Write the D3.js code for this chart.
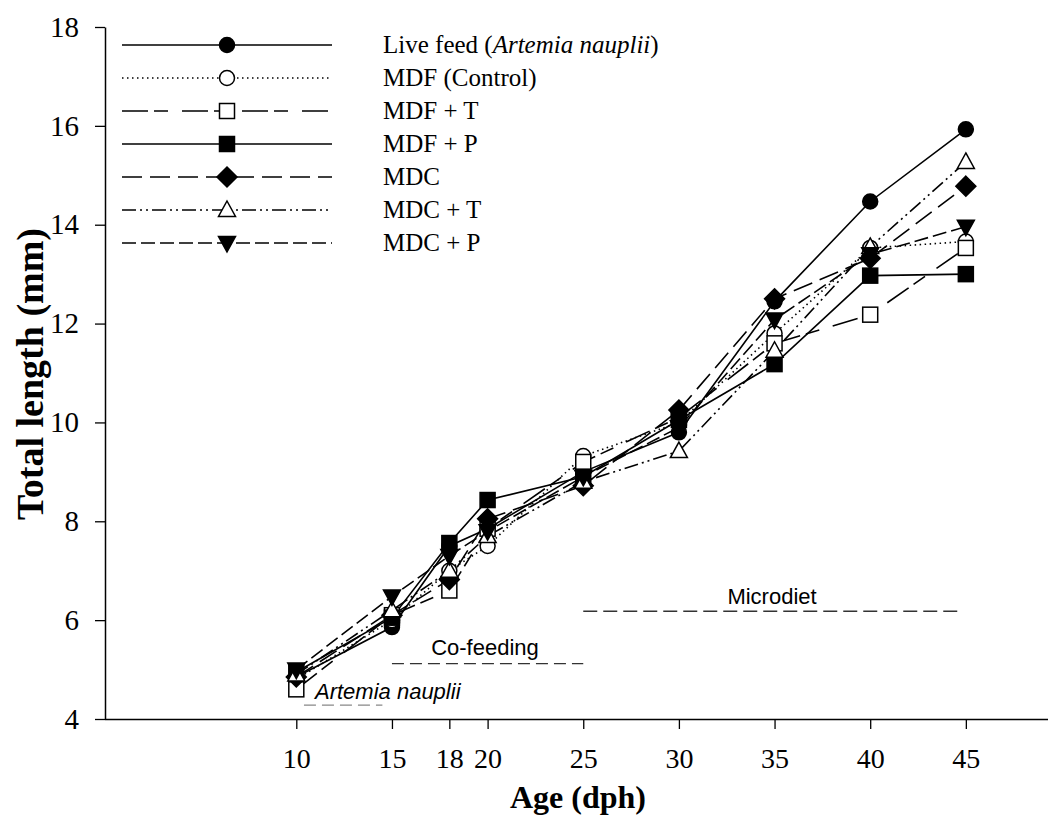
<!DOCTYPE html>
<html><head><meta charset="utf-8">
<script src="https://cdn.jsdelivr.net/npm/d3@7/dist/d3.min.js"></script>
<style>body{margin:0;background:#fff}svg{display:block}</style>
</head><body>
<svg id="c" width="1048" height="819"></svg>
<script>
const ages = [10, 15, 18, 20, 25, 30, 35, 40, 45];
const xTicks = [10, 15, 18, 20, 25, 30, 35, 40, 45];
const yTicks = [4, 6, 8, 10, 12, 14, 16, 18];
const seriesNames = ["Live feed", "MDF (Control)", "MDF + T", "MDF + P", "MDC", "MDC + T", "MDC + P"];
const liveFeed = [4.85, 5.86, 7.5, 7.85, 9.0, 9.8, 12.45, 14.47, 15.93];
const mdfControl = [4.8, 6.0, 7.0, 7.5, 9.32, 10.0, 11.8, 13.53, 13.66];
const mdfT = [4.6, 6.1, 6.6, 7.85, 9.2, 10.1, 11.6, 12.18, 13.53];
const mdfP = [4.95, 6.05, 7.56, 8.43, 8.9, 10.05, 11.18, 12.97, 13.0];
const mdc = [4.85, 6.1, 6.82, 8.05, 8.72, 10.25, 12.5, 13.32, 14.78];
const mdcT = [4.9, 6.2, 7.0, 7.7, 8.8, 9.42, 11.45, 13.55, 15.27];
const mdcP = [5.0, 6.48, 7.3, 7.8, 8.9, 9.9, 12.08, 13.4, 13.96];
const phases = [
  {label: "Artemia nauplii", from: 10.4, to: 14.5},
  {label: "Co-feeding", from: 15, to: 25},
  {label: "Microdiet", from: 25, to: 44.6}
];

const svg = d3.select("#c");
const x = d3.scaleLinear().domain([0, 50]).range([105, 1061.5]);
const y = d3.scaleLinear().domain([4, 18]).range([719, 27]);
const serif = "'Liberation Serif','Times New Roman',serif";
const sans = "'Liberation Sans',Arial,sans-serif";

const styles = [
  {dash: null, marker: "circle", fill: "#000"},
  {dash: "1.5,3.5", marker: "circle", fill: "#fff"},
  {dash: "26,6,14,14", marker: "square", fill: "#fff"},
  {dash: null, marker: "square", fill: "#000"},
  {dash: "20,8", marker: "diamond", fill: "#000"},
  {dash: "14,4,2,4,2,4", marker: "triangle", fill: "#fff"},
  {dash: "14,5", marker: "triangleDown", fill: "#000"}
];
const data = [liveFeed, mdfControl, mdfT, mdfP, mdc, mdcT, mdcP];

// axes
const xAxis = svg.append("g").attr("transform", "translate(0,719)")
  .call(d3.axisBottom(x).tickValues(xTicks).tickSize(10).tickPadding(19).tickSizeOuter(0));
xAxis.select(".domain").attr("stroke-width", 1.5).attr("d", "M105,0.5H1048");
xAxis.selectAll(".tick line").attr("stroke-width", 1.3);
xAxis.selectAll("text").attr("font-family", serif).attr("font-size", 28).attr("fill", "#000");

const yAxis = svg.append("g").attr("transform", "translate(105,0)")
  .call(d3.axisLeft(y).tickValues(yTicks).tickSize(10).tickPadding(16).tickSizeOuter(0));
yAxis.select(".domain").attr("stroke-width", 1.5);
yAxis.selectAll(".tick line").attr("stroke-width", 1.3);
yAxis.selectAll("text").attr("font-family", serif).attr("font-size", 29).attr("fill", "#000");

svg.append("text").attr("x", 578).attr("y", 808).attr("text-anchor", "middle")
  .attr("font-family", serif).attr("font-weight", "bold").attr("font-size", 32).text("Age (dph)");
svg.append("text").attr("transform", "translate(43,374) rotate(-90)").attr("text-anchor", "middle")
  .attr("font-family", serif).attr("font-weight", "bold").attr("font-size", 38).text("Total length (mm)");

// phase annotations
const phaseDash = ["12,6", "12,6", "14,6"];
const phaseY = [4.28, 5.12, 6.18];
const phaseColor = ["#888", "#333", "#333"];
phases.forEach((p, i) => {
  svg.append("line").attr("x1", x(p.from)).attr("x2", x(p.to))
    .attr("y1", y(phaseY[i])).attr("y2", y(phaseY[i]))
    .attr("stroke", phaseColor[i]).attr("stroke-width", 1.3).attr("stroke-dasharray", phaseDash[i]);
});
svg.append("text").attr("x", 315).attr("y", 699).attr("font-family", sans).attr("font-style", "italic")
  .attr("font-size", 22).text(phases[0].label);
svg.append("text").attr("x", 485).attr("y", 655).attr("text-anchor", "middle").attr("font-family", sans)
  .attr("font-size", 22).text(phases[1].label);
svg.append("text").attr("x", 772).attr("y", 604).attr("text-anchor", "middle").attr("font-family", sans)
  .attr("font-size", 22).text(phases[2].label);

function marker(g, type, fill, cx, cy) {
  const sw = 1.5;
  if (type === "circle") g.append("circle").attr("cx", cx).attr("cy", cy).attr("r", 7.5);
  else if (type === "square") g.append("rect").attr("x", cx - 7.5).attr("y", cy - 7.5).attr("width", 15).attr("height", 15);
  else if (type === "diamond") g.append("path").attr("d", `M${cx},${cy-10}L${cx+10},${cy}L${cx},${cy+10}L${cx-10},${cy}Z`);
  else if (type === "triangle") g.append("path").attr("d", `M${cx},${cy-9}L${cx+8.5},${cy+6.5}L${cx-8.5},${cy+6.5}Z`);
  else if (type === "triangleDown") g.append("path").attr("d", `M${cx},${cy+9}L${cx+8.5},${cy-6.5}L${cx-8.5},${cy-6.5}Z`);
  g.selectAll(":last-child").attr("fill", fill).attr("stroke", "#000").attr("stroke-width", sw);
}

const line = d3.line().x((d, i) => x(ages[i])).y(d => y(d));
data.forEach((vals, s) => {
  svg.append("path").attr("d", line(vals)).attr("fill", "none").attr("stroke", "#000")
    .attr("stroke-width", 1.6).attr("stroke-dasharray", styles[s].dash);
});
data.forEach((vals, s) => {
  const g = svg.append("g");
  vals.forEach((v, i) => marker(g, styles[s].marker, styles[s].fill, x(ages[i]), y(v)));
});

// legend
seriesNames.forEach((name, i) => {
  const ly = 45 + i * 33;
  svg.append("line").attr("x1", 122).attr("x2", 332).attr("y1", ly).attr("y2", ly)
    .attr("stroke", "#000").attr("stroke-width", 1.6).attr("stroke-dasharray", styles[i].dash);
  const g = svg.append("g");
  marker(g, styles[i].marker, styles[i].fill, 227, ly);
  const t = svg.append("text").attr("x", 383).attr("y", ly + 8).attr("font-family", serif).attr("font-size", 25);
  if (i === 0) {
    t.append("tspan").text("Live feed (");
    t.append("tspan").attr("font-style", "italic").text("Artemia nauplii");
    t.append("tspan").text(")");
  } else t.text(name);
});
</script>
</body></html>
